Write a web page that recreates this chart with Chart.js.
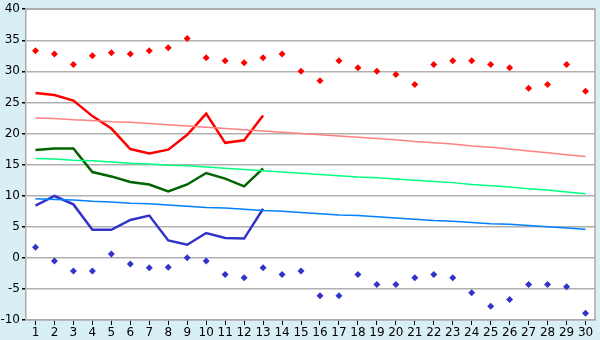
<!DOCTYPE html>
<html>
<head>
<meta charset="utf-8">
<script src="https://cdn.jsdelivr.net/npm/chart.js@4/dist/chart.umd.min.js"></script>
<style>
  html, body { margin: 0; padding: 0; background: #d9eff6; }
  #wrap { width: 600px; height: 340px; }
</style>
</head>
<body>
<div id="wrap"><canvas id="chart" width="600" height="340"></canvas></div>
<script>
// days of the month
const days = Array.from({ length: 30 }, (_, i) => String(i + 1));

// measured daily values (days 1-13)
const maxTemp = [26.5, 26.2, 25.3, 22.8, 20.8, 17.5, 16.8, 17.4, 19.8, 23.2, 18.5, 18.9, 22.9];
const avgTemp = [17.35, 17.6, 17.6, 13.8, 13.1, 12.2, 11.8, 10.7, 11.8, 13.65, 12.75, 11.5, 14.4];
const minTemp = [8.4, 9.95, 8.6, 4.5, 4.5, 6.1, 6.8, 2.8, 2.1, 4.0, 3.2, 3.1, 7.9];

// normals
const normMax = [22.5, 22.4, 22.2, 22.1, 21.9, 21.8, 21.6, 21.4, 21.2, 21.0, 20.8, 20.6, 20.4, 20.2, 20.0,
                 19.8, 19.6, 19.4, 19.2, 19.0, 18.7, 18.5, 18.3, 18.0, 17.8, 17.5, 17.2, 16.9, 16.6, 16.3];
const normAvg = [16.0, 15.9, 15.7, 15.6, 15.4, 15.2, 15.1, 14.9, 14.8, 14.6, 14.4, 14.2, 14.0, 13.8, 13.6,
                 13.4, 13.2, 13.0, 12.9, 12.7, 12.5, 12.3, 12.1, 11.8, 11.6, 11.4, 11.1, 10.9, 10.6, 10.3];
const normMin = [9.5, 9.4, 9.3, 9.1, 9.0, 8.8, 8.7, 8.5, 8.3, 8.1, 8.0, 7.8, 7.6, 7.5, 7.3,
                 7.1, 6.9, 6.8, 6.6, 6.4, 6.2, 6.0, 5.9, 5.7, 5.5, 5.4, 5.2, 5.0, 4.8, 4.6];

// records
const recMax = [33.3, 32.8, 31.1, 32.5, 33.0, 32.8, 33.3, 33.8, 35.3, 32.2, 31.7, 31.4, 32.2, 32.8, 30.0,
                28.5, 31.7, 30.6, 30.0, 29.5, 27.9, 31.1, 31.7, 31.7, 31.1, 30.6, 27.3, 27.9, 31.1, 26.8];
const recMin = [1.7, -0.5, -2.1, -2.1, 0.6, -1.0, -1.6, -1.5, 0.0, -0.5, -2.7, -3.2, -1.6, -2.7, -2.1,
                -6.1, -6.1, -2.7, -4.3, -4.3, -3.2, -2.7, -3.2, -5.6, -7.8, -6.7, -4.3, -4.3, -4.65, -8.9];

const yTicks = { min: -10, max: 40, step: 5 };

function pad(arr) {
    return days.map((_, i) => (i < arr.length ? arr[i] : null));
}

function lineSet(data, color, width) {
    return {
        type: 'line', data: pad(data), borderColor: color, backgroundColor: color,
        borderWidth: width, pointRadius: 0, tension: 0, spanGaps: false
    };
}

function dotSet(data, color) {
    return {
        type: 'line', data: data, showLine: false, borderColor: color, backgroundColor: color,
        pointStyle: 'rectRot', pointRadius: 3.5, pointBorderWidth: 0
    };
}

// right + top frame of the plot
const frame = {
    id: 'frame',
    afterDraw(chart) {
        const { ctx, chartArea: a } = chart;
        ctx.save();
        ctx.strokeStyle = '#aaaaaa';
        ctx.lineWidth = 1.5;
        ctx.beginPath();
        ctx.moveTo(a.left, a.top);
        ctx.lineTo(a.right, a.top);
        ctx.lineTo(a.right, a.bottom);
        ctx.stroke();
        ctx.restore();
    }
};

const bgPlot = {
    id: 'bgPlot',
    beforeDraw(chart) {
        const { ctx, chartArea: a } = chart;
        ctx.save();
        ctx.fillStyle = '#ffffff';
        ctx.fillRect(a.left, a.top, a.right - a.left, a.bottom - a.top);
        ctx.restore();
    }
};

new Chart(document.getElementById('chart'), {
    type: 'line',
    data: {
        labels: days,
        datasets: [
            lineSet(normMax, '#ff8080', 1.5),
            lineSet(normAvg, '#00ff80', 1.5),
            lineSet(normMin, '#0080ff', 1.5),
            lineSet(maxTemp, '#ff0000', 2.5),
            lineSet(avgTemp, '#006400', 2.5),
            lineSet(minTemp, '#3333cc', 2.5),
            dotSet(recMax, '#ff0000'),
            dotSet(recMin, '#3333cc')
        ]
    },
    options: {
        responsive: false,
        animation: false,
        layout: { padding: { top: 5, right: 5, left: 0, bottom: 0 } },
        plugins: { legend: { display: false }, tooltip: { enabled: false } },
        scales: {
            x: {
                offset: true,
                grid: { drawOnChartArea: false, drawTicks: true, tickLength: 5, tickColor: '#000', offset: false },
                border: { display: true, color: '#aaaaaa', width: 1.5 },
                ticks: { color: '#000', padding: 1, maxRotation: 0, autoSkip: false, font: { family: 'DejaVu Sans', size: 12 } },
                afterFit(s) { s.height = 20; }
            },
            y: {
                min: yTicks.min, max: yTicks.max,
                grid: { color: '#b0b0b0', lineWidth: 1.5, tickLength: 4, tickColor: '#000' },
                border: { display: true, color: '#aaaaaa', width: 1.5 },
                ticks: { stepSize: yTicks.step, color: '#000', padding: 2, font: { family: 'DejaVu Sans', size: 12 } },
                afterFit(s) { s.width = 26; }
            }
        }
    },
    plugins: [bgPlot, frame]
});
</script>
</body>
</html>
